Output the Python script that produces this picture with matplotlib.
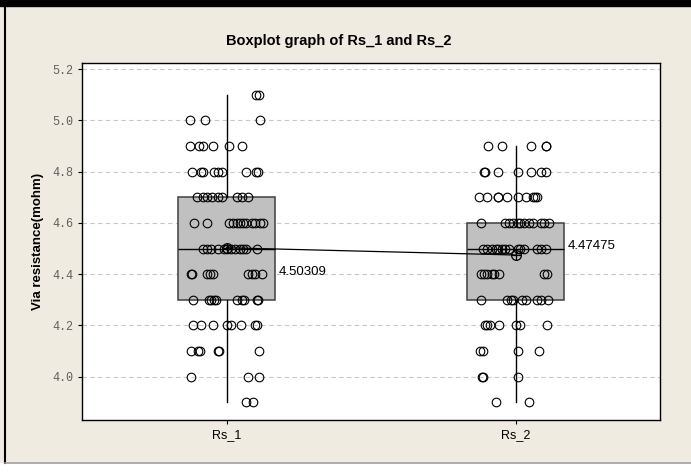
import numpy as np
import matplotlib
matplotlib.use('Agg')
import matplotlib.pyplot as plt
from matplotlib.patches import Rectangle
from matplotlib.lines import Line2D

# data
categories = ['Rs_1', 'Rs_2']
levels_1 = [5.1, 5.0, 4.9, 4.8, 4.7, 4.6, 4.5, 4.4, 4.3, 4.2, 4.1, 4.0, 3.9]
jitter_1 = [
    [0.101, 0.111],
    [-0.125, -0.073, 0.115],
    [-0.125, -0.094, -0.080, -0.045, 0.010, 0.052],
    [-0.118, -0.087, -0.080, -0.042, -0.028, -0.017, 0.066, 0.101, 0.108],
    [-0.101, -0.083, -0.069, -0.049, -0.031, -0.014, 0.038, 0.052, 0.073],
    [-0.111, -0.066, 0.010, 0.021, 0.035, 0.045, 0.056, 0.069, 0.087, 0.097, 0.115, 0.125],
    [-0.083, -0.069, -0.052, -0.031, -0.007, 0.003, 0.014, 0.028, 0.045, 0.056, 0.069, 0.104],
    [-0.122, -0.121, -0.069, -0.056, -0.045, 0.073, 0.087, 0.097, 0.122],
    [-0.115, -0.062, -0.052, -0.042, -0.035, 0.038, 0.052, 0.059, 0.104, 0.108],
    [-0.115, -0.087, -0.045, 0.003, 0.017, 0.049, 0.097, 0.104],
    [-0.122, -0.097, -0.090, -0.028, -0.027, 0.111],
    [-0.122, 0.076, 0.111],
    [0.066, 0.090],
]
levels_2 = [4.9, 4.8, 4.7, 4.6, 4.5, 4.4, 4.3, 4.2, 4.1, 4.0, 3.9]
jitter_2 = [
    [-0.094, -0.045, 0.052, 0.104, 0.106],
    [-0.108, -0.107, -0.062, 0.010, 0.052, 0.087, 0.104],
    [-0.128, -0.097, -0.062, -0.061, -0.028, 0.007, 0.035, 0.059, 0.069, 0.076],
    [-0.118, -0.035, -0.024, -0.010, 0.007, 0.017, 0.028, 0.045, 0.059, 0.087, 0.097, 0.115],
    [-0.111, -0.097, -0.080, -0.069, -0.059, -0.045, -0.035, -0.024, 0.007, 0.017, 0.028, 0.076, 0.087, 0.104],
    [-0.118, -0.108, -0.097, -0.083, -0.073, -0.056, 0.097, 0.108],
    [-0.118, -0.028, -0.017, -0.007, 0.024, 0.035, 0.076, 0.087, 0.111],
    [-0.104, -0.097, -0.087, -0.056, 0.003, 0.014, 0.108],
    [-0.122, -0.111, 0.007, 0.080],
    [-0.115, -0.114, 0.007],
    [-0.069, 0.045],
]
q1 = [4.3, 4.3]
median = [4.5, 4.5]
q3 = [4.7, 4.6]
whisker_lo = [3.9, 3.9]
whisker_hi = [5.1, 4.9]
means = [4.50309, 4.47475]
yticks = [4.0, 4.2, 4.4, 4.6, 4.8, 5.0, 5.2]

bg = '#efebe1'
fig = plt.figure(figsize=(6.91, 4.72), dpi=100, facecolor=bg)

# window frame bits (black bar on top, left border, bottom line)
fig.patches.append(Rectangle((0, 1 - 6/472), 1, 6/472, transform=fig.transFigure, color='black', zorder=5))
fig.lines.append(Line2D([5/691, 5/691], [9/472, 1 - 6/472], transform=fig.transFigure, color='black', lw=1.5))
fig.patches.append(Rectangle((0, 0), 1, 9/472, transform=fig.transFigure, color='white', zorder=1))
fig.lines.append(Line2D([5/691, 1], [9/472, 9/472], transform=fig.transFigure, color='#a0a0a0', lw=1.2))

ax = fig.add_axes([82/691, 1 - 420/472, 578/691, 357/472])
ax.set_facecolor('white')

stats = []
for i in range(2):
    stats.append({'med': median[i], 'q1': q1[i], 'q3': q3[i],
                  'whislo': whisker_lo[i], 'whishi': whisker_hi[i], 'fliers': []})
ax.bxp(stats, positions=[1, 2], widths=0.335, showcaps=False, showfliers=False,
       patch_artist=True,
       boxprops=dict(facecolor='#c0c0c0', edgecolor='#404040', linewidth=1.1),
       whiskerprops=dict(color='black', linewidth=1.0),
       medianprops=dict(color='black', linewidth=1.0), zorder=2)

# individual points
for pos, levels, jit in [(1, levels_1, jitter_1), (2, levels_2, jitter_2)]:
    xs, ys = [], []
    for lv, offs in zip(levels, jit):
        for o in offs:
            xs.append(pos + o)
            ys.append(lv)
    ax.plot(xs, ys, 'o', mfc='none', mec='black', mew=0.8, ms=6.2, zorder=4)

# mean connect line and symbols
ax.plot([1, 2], means, color='black', lw=0.9, zorder=3)
ax.plot([1, 2], means, 'o', mfc='none', mec='black', mew=0.9, ms=7, zorder=5)
ax.plot([1, 2], means, '+', color='black', mew=0.9, ms=7, zorder=5)

ax.text(1.18, means[0] - 0.095, f'{means[0]:.5f}', fontsize=9.5, family='Liberation Sans', va='center', ha='left')
ax.text(2.18, means[1] + 0.035, f'{means[1]:.5f}', fontsize=9.5, family='Liberation Sans', va='center', ha='left')

ax.set_xlim(0.5, 2.5)
ax.set_ylim(3.831, 5.224)
ax.set_xticks([1, 2])
ax.set_xticklabels(categories, family='Liberation Sans', fontsize=9)
ax.set_yticks(yticks)
ax.set_yticklabels([f'{t:.1f}' for t in yticks], family='Liberation Mono', fontsize=8.5, color='#606060')
ax.tick_params(axis='both', direction='out', length=3, width=0.8, color='black')
ax.yaxis.grid(True, color='#c8c8c8', linestyle=(0, (4, 3)), linewidth=0.8)
ax.set_axisbelow(True)
for s in ax.spines.values():
    s.set_color('black')
    s.set_linewidth(1.0)

ax.set_ylabel('Via resistance(mohm)', family='Liberation Sans', fontweight='bold', fontsize=9.5, labelpad=6)
fig.text(0.49, 1 - 41/472, 'Boxplot graph of Rs_1 and Rs_2', family='Liberation Sans',
         fontweight='bold', fontsize=10.5, ha='center', va='center')

fig.savefig('out.png', dpi=100, facecolor=bg)
